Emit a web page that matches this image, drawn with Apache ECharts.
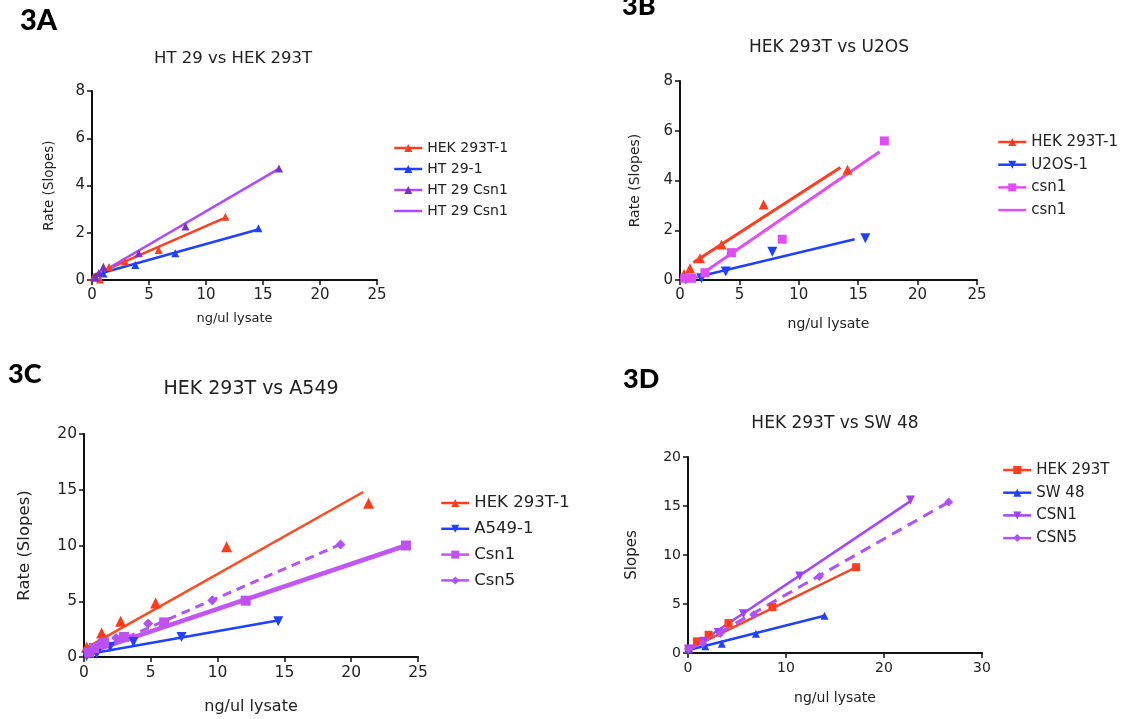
<!DOCTYPE html>
<html>
<head>
<meta charset="utf-8">
<script src="https://cdn.jsdelivr.net/npm/echarts@6/dist/echarts.min.js"></script>
<style>
  html, body { margin: 0; padding: 0; background: #fff; }
  #chart { width: 1129px; height: 719px; }
</style>
</head>
<body>
<div id="chart"></div>
<script>
// ---- 3A: HT 29 vs HEK 293T ----
const aHekPts  = [[0.15,0.14],[0.7,0.02],[1.5,0.55],[2.9,0.78],[5.85,1.27],[11.7,2.68]];
const aHekFit  = [[0.2,0.22],[11.5,2.6]];
const aHt29Pts = [[0.3,0.14],[1.0,0.28],[3.8,0.63],[7.3,1.13],[14.6,2.19]];
const aHt29Fit = [[0.3,0.22],[14.5,2.13]];
const aCsn1Pts = [[0.2,0.1],[0.6,0.3],[1.0,0.56],[4.1,1.13],[8.2,2.26],[16.4,4.72]];
const aCsn1Fit = [[0.2,0.15],[16.3,4.68]];

// ---- 3B: HEK 293T vs U2OS ----
const bHekPts  = [[0.34,0.24],[0.84,0.47],[1.68,0.87],[3.5,1.43],[7.04,3.04],[14.1,4.43]];
const bHekFit  = [[1.12,0.7],[13.5,4.52]];
const bU2osPts = [[0.5,0.02],[1.8,0.07],[3.85,0.34],[7.77,1.14],[15.6,1.68]];
const bU2osFit = [[0.98,0.07],[14.7,1.64]];
const bCsn1Pts = [[0.4,0.07],[0.98,0.07],[2.1,0.29],[4.33,1.1],[8.6,1.64],[17.2,5.59]];
const bCsn1Fit = [[1.4,0.1],[16.8,5.16]];

// ---- 3C: HEK 293T vs A549 ----
const cHekPts  = [[0.2,0.9],[1.32,2.16],[2.74,3.2],[5.36,4.85],[10.67,9.88],[21.3,13.8]];
const cHekFit  = [[0.07,0.75],[20.9,14.8]];
const cA549Pts = [[0.2,0.1],[0.95,0.3],[1.95,0.9],[3.7,1.35],[7.3,1.8],[14.54,3.2]];
const cA549Fit = [[0.45,0.3],[14.6,3.3]];
const cCsn1Pts = [[0.38,0.4],[0.75,0.8],[1.5,1.3],[3.0,1.8],[6.0,3.1],[12.1,5.05],[24.1,10.0]];
const cCsn1Fit = [[0.07,0.3],[24.1,10.0]];
const cCsn5Pts = [[0.3,0.3],[0.6,0.7],[1.2,1.3],[2.4,1.7],[4.8,3.0],[9.6,5.1],[19.2,10.1]];
const cCsn5Fit = [[0.1,0.15],[19.2,10.1]];

// ---- 3D: HEK 293T vs SW 48 ----
const dHekPts  = [[0.07,0.4],[0.91,1.19],[2.1,1.86],[4.13,3.05],[8.62,4.68],[17.15,8.75]];
const dHekFit  = [[0.07,0.4],[17.15,8.75]];
const dSw48Pts = [[0.1,0.3],[1.76,0.68],[3.45,0.95],[6.93,1.97],[13.93,3.8]];
const dSw48Fit = [[0.07,0.3],[13.93,3.8]];
const dCsn1Pts = [[0.07,0.4],[1.6,1.19],[3.1,2.1],[5.65,4.0],[11.4,7.86],[22.7,15.6]];
const dCsn1Fit = [[0.07,0.3],[22.7,15.5]];
const dCsn5Pts = [[0.07,0.4],[1.5,1.0],[3.3,2.0],[6.7,3.9],[13.4,7.8],[26.6,15.4]];
const dCsn5Fit = [[0.07,0.3],[26.6,15.4]];

// panel labels and titles
const panelLabels = ['3A', '3B', '3C', '3D'];
const panelTitles = ['HT 29 vs HEK 293T', 'HEK 293T vs U2OS', 'HEK 293T vs A549', 'HEK 293T vs SW 48'];
const xAxisName = 'ng/ul lysate';
const yAxisNames = ['Rate (Slopes)', 'Rate (Slopes)', 'Rate (Slopes)', 'Slopes'];
const xMax = [25, 25, 25, 30];
const xStep = [5, 5, 5, 10];
const yMax = [8, 8, 20, 20];
const yStep = [2, 2, 5, 5];

const FONT = 'DejaVu Sans';
const RED = '#ff3d1f', BLUE = '#2040ff';

const series = [];
// each data set: the measured points (markers only) plus its fitted line
function addSet(gi, o) {
  series.push({
    type: 'line', name: o.name, xAxisIndex: gi, yAxisIndex: gi, data: o.pts,
    symbol: o.symbol, symbolRotate: o.rot || 0, symbolSize: o.size, showSymbol: true,
    lineStyle: { width: 0, color: o.line }, itemStyle: { color: o.mark },
    emphasis: { disabled: true }, z: 3
  });
  series.push({
    type: 'line', name: o.name + ' fit', xAxisIndex: gi, yAxisIndex: gi, data: o.fit,
    symbol: 'none',
    lineStyle: { width: o.width, color: o.line, type: o.dash || 'solid', cap: 'butt' },
    emphasis: { disabled: true }, z: 2
  });
}

addSet(0, { name: 'HEK 293T-1', pts: aHekPts, fit: aHekFit, symbol: 'triangle', size: 8, line: RED, mark: RED, width: 2.5 });
addSet(0, { name: 'HT 29-1', pts: aHt29Pts, fit: aHt29Fit, symbol: 'triangle', size: 8, line: BLUE, mark: BLUE, width: 2.5 });
addSet(0, { name: 'HT 29 Csn1', pts: aCsn1Pts, fit: aCsn1Fit, symbol: 'triangle', size: 8, line: '#b048ff', mark: '#7a30c0', width: 2.5 });

addSet(1, { name: 'HEK 293T-1', pts: bHekPts, fit: bHekFit, symbol: 'triangle', size: 10, line: RED, mark: RED, width: 3 });
addSet(1, { name: 'U2OS-1', pts: bU2osPts, fit: bU2osFit, symbol: 'triangle', rot: 180, size: 10, line: BLUE, mark: BLUE, width: 2.5 });
addSet(1, { name: 'csn1', pts: bCsn1Pts, fit: bCsn1Fit, symbol: 'rect', size: 9, line: '#e24cf5', mark: '#e04cf5', width: 3 });

addSet(2, { name: 'HEK 293T-1', pts: cHekPts, fit: cHekFit, symbol: 'triangle', size: 11, line: '#ff4a1f', mark: '#ff3a1a', width: 2.5 });
addSet(2, { name: 'A549-1', pts: cA549Pts, fit: cA549Fit, symbol: 'triangle', rot: 180, size: 10, line: BLUE, mark: BLUE, width: 2.5 });
addSet(2, { name: 'Csn1', pts: cCsn1Pts, fit: cCsn1Fit, symbol: 'rect', size: 10, line: '#c356f2', mark: '#bf50f2', width: 4.5 });
addSet(2, { name: 'Csn5', pts: cCsn5Pts, fit: cCsn5Fit, symbol: 'diamond', size: 10, line: '#b454f7', mark: '#b050f5', width: 3, dash: [9, 6] });

addSet(3, { name: 'HEK 293T', pts: dHekPts, fit: dHekFit, symbol: 'rect', size: 8, line: RED, mark: RED, width: 2.5 });
addSet(3, { name: 'SW 48', pts: dSw48Pts, fit: dSw48Fit, symbol: 'triangle', size: 8, line: BLUE, mark: BLUE, width: 2.5 });
addSet(3, { name: 'CSN1', pts: dCsn1Pts, fit: dCsn1Fit, symbol: 'triangle', rot: 180, size: 9, line: '#a445ff', mark: '#a040ff', width: 2.5 });
addSet(3, { name: 'CSN5', pts: dCsn5Pts, fit: dCsn5Fit, symbol: 'diamond', size: 9, line: '#b050ff', mark: '#b050ff', width: 3, dash: [11, 7] });

// panel geometry (pixels)
const grids = [
  { left: 92,  top: 91,  width: 285, height: 189 },
  { left: 680, top: 81,  width: 297, height: 199 },
  { left: 84,  top: 434, width: 334, height: 223 },
  { left: 688, top: 457, width: 294, height: 196 }
];
const tickFont = [15, 15, 15.5, 14];
const xNameFont = [13, 14, 16, 14];
const yNameFont = [13.5, 14, 16.5, 15];
const xNameGap = [32, 37, 42, 38];
const yNameGap = [36, 38, 51, 48];

const axisLine = { show: true, onZero: false, lineStyle: { color: '#111', width: 2 } };
const axisTick = { show: true, inside: false, length: 5, lineStyle: { color: '#111', width: 1.5 } };

const xAxis = grids.map((g, i) => ({
  type: 'value', gridIndex: i, min: 0, max: xMax[i], interval: xStep[i],
  name: xAxisName, nameLocation: 'middle', nameGap: xNameGap[i],
  nameTextStyle: { fontFamily: FONT, fontSize: xNameFont[i], color: '#222' },
  axisLine, axisTick,
  axisLabel: { fontFamily: FONT, fontSize: tickFont[i], color: '#222', margin: 8 },
  splitLine: { show: false }
}));
const yAxis = grids.map((g, i) => ({
  type: 'value', gridIndex: i, min: 0, max: yMax[i], interval: yStep[i],
  name: yAxisNames[i], nameLocation: 'middle', nameGap: yNameGap[i],
  nameTextStyle: { fontFamily: FONT, fontSize: yNameFont[i], color: '#222' },
  axisLine, axisTick,
  axisLabel: { fontFamily: FONT, fontSize: tickFont[i], color: '#222', margin: 7 },
  splitLine: { show: false }
}));

const labelPos = [[20, 6, 29], [622, -7, 27], [8, 361, 27], [623, 366, 27]];
const titlePos = [[233, 59, 16.5], [829, 47.5, 17], [251, 389, 19], [835, 424, 17]];
const title = [];
panelLabels.forEach((t, i) => title.push({
  text: t, left: labelPos[i][0], top: labelPos[i][1], padding: 0,
  textStyle: { fontFamily: 'Lato', fontWeight: 900, fontSize: labelPos[i][2], color: '#000' }
}));
panelTitles.forEach((t, i) => title.push({
  text: t, left: titlePos[i][0], top: titlePos[i][1], padding: 0,
  textAlign: 'center', textVerticalAlign: 'middle',
  textStyle: { fontFamily: FONT, fontWeight: 'normal', fontSize: titlePos[i][2], color: '#222' }
}));

function legendBox(left, top, gap, fs, names, extra) {
  return {
    orient: 'vertical', left, top, padding: 0, itemGap: gap,
    itemWidth: 28, itemHeight: 10, selectedMode: true,
    lineStyle: { width: 2.5, type: 'solid' },
    textStyle: { fontFamily: FONT, fontSize: fs, color: '#222' },
    formatter: n => n.replace(/ fit$/, ''),
    data: names.map(n => (extra && extra[n]) ? Object.assign({ name: n }, extra[n]) : n)
  };
}
const hideMarker = { itemStyle: { opacity: 0 } };
const legend = [
  legendBox(393, 141, 7, 14, ['HEK 293T-1', 'HT 29-1', 'HT 29 Csn1', 'HT 29 Csn1 fit'], { 'HT 29 Csn1 fit': hideMarker }),
  legendBox(997, 134.5, 7.7, 15, ['HEK 293T-1', 'U2OS-1', 'csn1', 'csn1 fit'], { 'csn1 fit': hideMarker }),
  legendBox(440, 494.5, 8.8, 16.5, ['HEK 293T-1', 'A549-1', 'Csn1', 'Csn5']),
  legendBox(1002, 462.5, 7.7, 15, ['HEK 293T', 'SW 48', 'CSN1', 'CSN5'])
];

const chart = echarts.init(document.getElementById('chart'), null, { renderer: 'canvas' });
chart.setOption({
  animation: false,
  backgroundColor: '#fff',
  title, legend, grid: grids, xAxis, yAxis, series
});
</script>
</body>
</html>
